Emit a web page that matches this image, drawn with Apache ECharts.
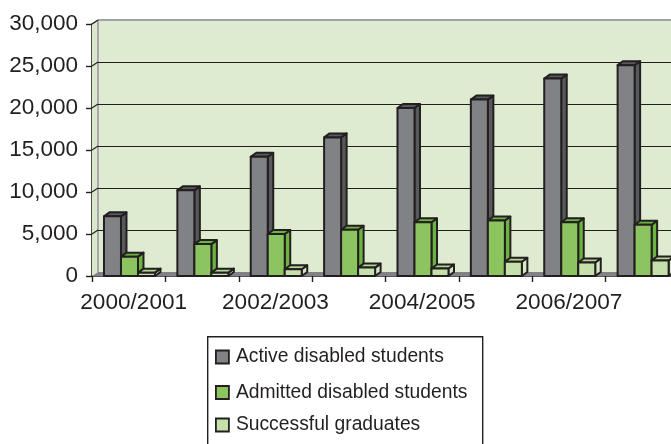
<!DOCTYPE html>
<html>
<head>
<meta charset="utf-8">
<style>html,body{margin:0;padding:0;background:#fff;overflow:hidden}#c{width:671px;height:444px}</style>
<script src="https://cdn.jsdelivr.net/npm/echarts@6/dist/echarts.min.js"></script>
</head>
<body>
<div id="c"></div>
<script>
const years = ['2000/2001','2001/2002','2002/2003','2003/2004','2004/2005','2005/2006','2006/2007','2007/2008'];
const active = [7100,10200,14200,16500,20000,21000,23500,25100];
const admitted = [2300,3800,5000,5500,6400,6600,6400,6100];
const graduates = [400,400,800,1000,900,1700,1600,1850];
const yTicks = [0,5000,10000,15000,20000,25000,30000];

const INK = '#231f20';
const DEPTH_X = 6, DEPTH_Y = 4;
const BAR_W = 17, BAR_START = -24.7;

// Pseudo-3D prism: front face, lit top and shaded side.
function prism(slot, front, top, side) {
  return function (params, api) {
    const c = api.coord([api.value(0), api.value(1)]);
    const base = api.coord([api.value(0), 0]);
    const x0 = c[0] + BAR_START + slot * BAR_W, x1 = x0 + BAR_W;
    const y0 = c[1], y1 = base[1];
    const dx = DEPTH_X - 0.5, dy = DEPTH_Y;
    const stroke = { stroke: INK, lineWidth: 2, lineJoin: 'round' };
    return { type: 'group', children: [
      { type: 'polygon', shape: { points: [[x1,y1],[x1,y0],[x1+dx,y0-dy],[x1+dx,y1-dy]] }, style: { fill: side, ...stroke } },
      { type: 'polygon', shape: { points: [[x0,y0],[x1,y0],[x1+dx,y0-dy],[x0+dx,y0-dy]] }, style: { fill: top, ...stroke } },
      { type: 'rect', shape: { x: x0, y: y0, width: BAR_W, height: y1 - y0 }, style: { fill: front, ...stroke } }
    ]};
  };
}

// Back wall, side wall and floor, with gridlines set back from the axis ticks.
function room(params, api) {
  const g = params.coordSys;
  const y = api.coord([0, api.value(1)])[1];
  const right = g.x + g.width;
  const children = [];
  if (params.dataIndex === 0) {
    children.push(
      { type: 'rect', shape: { x: g.x + DEPTH_X, y: g.y - DEPTH_Y, width: g.width, height: g.height }, style: { fill: '#deebd0' } },
      { type: 'polygon', shape: { points: [[g.x, g.y],[g.x+DEPTH_X, g.y-DEPTH_Y],[g.x+DEPTH_X, g.y+g.height-DEPTH_Y],[g.x, g.y+g.height]] }, style: { fill: '#dbe8cc' } },
      { type: 'polygon', shape: { points: [[g.x, y],[g.x+DEPTH_X, y-DEPTH_Y],[right+DEPTH_X, y-DEPTH_Y],[right, y]] }, style: { fill: '#808285' } },
      { type: 'line', shape: { x1: g.x+DEPTH_X, y1: g.y-DEPTH_Y, x2: g.x+DEPTH_X, y2: g.y+g.height-DEPTH_Y }, style: { stroke: '#a0a2a5', lineWidth: 1.8 } },
      { type: 'line', shape: { x1: g.x+DEPTH_X, y1: g.y-DEPTH_Y, x2: right+DEPTH_X, y2: g.y-DEPTH_Y }, style: { stroke: '#a0a2a5', lineWidth: 1.8 } },
      { type: 'line', shape: { x1: g.x, y1: g.y, x2: g.x+DEPTH_X, y2: g.y-DEPTH_Y }, style: { stroke: '#a0a2a5', lineWidth: 1.4 } }
    );
  } else {
    children.push(
      { type: 'line', shape: { x1: g.x, y1: y, x2: g.x+DEPTH_X, y2: y-DEPTH_Y }, style: { stroke: INK, lineWidth: 1.1 } }
    );
    if (api.value(1) < 30000) {
      const back = Math.round(y - DEPTH_Y) + 0.5;
      children.push({ type: 'line', shape: { x1: g.x+DEPTH_X, y1: back, x2: right+DEPTH_X, y2: back }, style: { stroke: INK, lineWidth: 1.2 } });
    }
  }
  return { type: 'group', children };
}

const pairs = arr => arr.map((v, i) => [i, v]);
const barSeries = (name, values, slot, front, top, side) => ({
  type: 'custom', name, data: pairs(values), z: 3 + slot,
  encode: { x: 0, y: 1 }, itemStyle: { color: front },
  renderItem: prism(slot, front, top, side)
});
const legendRow = (name, top) => ({
  data: [{ name, icon: 'rect' }], left: 215, top, orient: 'horizontal', padding: 0,
  itemWidth: 13, itemHeight: 13, selectedMode: false,
  itemStyle: { borderColor: INK, borderWidth: 1.8 },
  textStyle: { fontFamily: 'Liberation Sans', fontSize: 19.3, color: INK, padding: [0,0,0,2] }
});

const chart = echarts.init(document.getElementById('c'), null, { renderer: 'canvas' });
chart.setOption({
  animation: false,
  backgroundColor: '#fff',
  grid: { left: 92, top: 24, width: 587, height: 252, containLabel: false, outerBoundsMode: 'none' },
  xAxis: {
    type: 'category', data: years, boundaryGap: true,
    axisLine: { lineStyle: { color: INK, width: 1.6 } },
    axisTick: { show: true, interval: 0, length: 6, lineStyle: { color: INK, width: 1.4 } },
    axisLabel: {
      interval: 1, margin: 15, color: INK, fontFamily: 'Liberation Sans', fontSize: 22.6,
      hideOverlap: false,
      formatter: (v, i) => i === 0 ? '{first|' + v + '}' : v,
      rich: { first: { padding: [0, 0, 0, 10], fontFamily: 'Liberation Sans', fontSize: 22.6, color: INK } }
    }
  },
  yAxis: {
    type: 'value', min: 0, max: 30000, interval: 5000,
    splitLine: { show: false },
    axisLine: { show: true, lineStyle: { color: INK, width: 1.6 } },
    axisTick: { show: true, length: 6, lineStyle: { color: INK, width: 1.4 } },
    axisLabel: {
      margin: 14, color: INK, fontFamily: 'Liberation Sans', fontSize: 22.5,
      padding: [3, 0, 0, 0],
      formatter: v => v.toLocaleString('en-US')
    }
  },
  legend: [
    legendRow('Active disabled students', 347.5),
    legendRow('Admitted disabled students', 383),
    legendRow('Successful graduates', 415.5)
  ],
  graphic: [{
    type: 'rect', left: 207, top: 336, z: -1,
    shape: { width: 275, height: 120 },
    style: { fill: '#fff', stroke: INK, lineWidth: 1.4 }
  }],
  series: [
    { type: 'custom', data: pairs(yTicks), encode: { x: 0, y: 1 }, renderItem: room, z: 1, silent: true },
    barSeries('Active disabled students', active, 0, '#808285', '#58595b', '#58595b'),
    barSeries('Admitted disabled students', admitted, 1, '#8cc55f', '#6cb33f', '#6cb33f'),
    barSeries('Successful graduates', graduates, 2, '#c5e0ab', '#b3d58f', '#d7e8c4')
  ]
});
</script>
</body>
</html>
